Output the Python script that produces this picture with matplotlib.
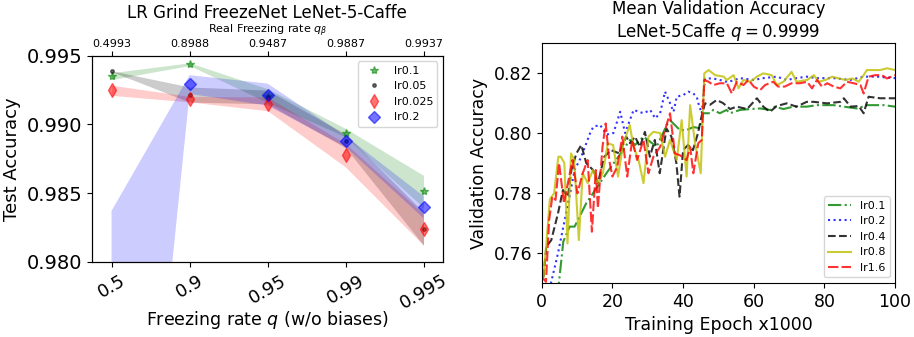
import numpy as np
import matplotlib
matplotlib.use("Agg")
import matplotlib.pyplot as plt

# ---- left panel: LR grid, test accuracy vs freezing rate ----
q_labels = ["0.5", "0.9", "0.95", "0.99", "0.995"]
q_real = ["0.4993", "0.8988", "0.9487", "0.9887", "0.9937"]

acc_lr01 = [0.99352, 0.99439, 0.99210, 0.98941, 0.98512]
std_lr01 = [0.00025, 0.00010, 0.00050, 0.00030, 0.00117]
acc_lr005 = [0.99388, 0.99218, 0.99200, 0.98880, 0.98240]
std_lr005 = [0.00003, 0.00055, 0.00050, 0.00050, 0.00120]
acc_lr0025 = [0.99249, 0.99184, 0.99150, 0.98775, 0.98235]
std_lr0025 = [0.00037, 0.00020, 0.00050, 0.00085, 0.00115]
acc_lr02 = [0.96020, 0.99291, 0.99218, 0.98877, 0.98398]
std_lr02 = [0.02350, 0.00068, 0.00080, 0.00040, 0.00080]

# ---- right panel: mean validation accuracy, q = 0.9999 ----
x_lr01 = [4.5, 6.1, 7.9, 9.3, 10.7, 12.6, 14.5, 16.4, 18.3, 21.7,
          23.6, 25.0, 26.4, 28.8, 30.6, 32.5, 35.4, 36.3, 39.1, 41.0,
          42.9, 44.8, 45.7, 47.6, 48.5, 50.4, 52.3, 53.3, 56.1, 59.0,
          61.8, 64.6, 66.0, 68.4, 71.2, 75.0, 77.9, 82.6, 85.5, 89.2,
          92.1, 96.8, 100]
y_lr01 = [0.7460, 0.7638, 0.7688, 0.7688, 0.7721, 0.7766, 0.7799, 0.7832, 0.7866, 0.7921,
          0.7954, 0.7977, 0.7960, 0.7988, 0.7972, 0.7954, 0.8027, 0.8043, 0.8010, 0.8010,
          0.8020, 0.8016, 0.8066, 0.8066, 0.8077, 0.8066, 0.8077, 0.8066, 0.8077, 0.8080,
          0.8082, 0.8077, 0.8088, 0.8080, 0.8088, 0.8088, 0.8093, 0.8093, 0.8088, 0.8082,
          0.8093, 0.8093, 0.8088]

x_lr02 = [2.2, 2.7, 4.6, 6.5, 8.4, 9.3, 11.2, 13.7, 14.6, 16.5,
          18.4, 20.3, 22.2, 23.6, 26.0, 28.8, 30.7, 32.1, 33.5, 34.9,
          36.3, 37.3, 38.2, 40.1, 41.5, 42.9, 43.9, 44.3, 45.3, 46.2,
          48.5, 50.4, 52.7, 56.1, 60.0, 62.7, 66.5, 69.3, 72.1, 75.0,
          77.9, 82.6, 87.3, 91.1, 94.9, 100]
y_lr02 = [0.7480, 0.7504, 0.7599, 0.7710, 0.7821, 0.7877, 0.7921, 0.8000, 0.8021, 0.8027,
          0.7995, 0.8000, 0.8071, 0.8000, 0.8077, 0.8066, 0.8077, 0.8049, 0.8066, 0.8138,
          0.8100, 0.8071, 0.8121, 0.8127, 0.8138, 0.8132, 0.8120, 0.8100, 0.8066, 0.8182,
          0.8182, 0.8177, 0.8170, 0.8183, 0.8177, 0.8183, 0.8188, 0.8177, 0.8183, 0.8188,
          0.8183, 0.8183, 0.8177, 0.8188, 0.8188, 0.8183]

x_lr04 = [0.5, 1.3, 2.7, 4.6, 6.0, 7.4, 8.4, 9.8, 11.2, 12.6,
          14.5, 15.9, 17.7, 19.6, 22.0, 23.9, 25.0, 26.4, 27.8, 29.2,
          30.6, 32.0, 33.4, 35.3, 36.7, 38.1, 39.0, 40.0, 41.4, 42.8,
          44.2, 45.2, 46.2, 47.6, 49.5, 51.3, 53.3, 55.2, 58.1, 60.9,
          62.7, 64.6, 66.5, 69.3, 72.1, 75.0, 77.0, 80.8, 84.5, 85.5,
          87.4, 89.7, 91.1, 92.5, 95.8, 100]
y_lr04 = [0.7520, 0.7621, 0.7643, 0.7732, 0.7810, 0.7788, 0.7877, 0.7932, 0.7960, 0.7900,
          0.7877, 0.7833, 0.7921, 0.7943, 0.7932, 0.7988, 0.7966, 0.7988, 0.7954, 0.8004,
          0.7921, 0.7977, 0.7866, 0.8015, 0.7988, 0.7900, 0.7788, 0.7943, 0.7960, 0.7943,
          0.7999, 0.8054, 0.8099, 0.8094, 0.8110, 0.8100, 0.8080, 0.8088, 0.8080, 0.8116,
          0.8088, 0.8071, 0.8090, 0.8099, 0.8088, 0.8104, 0.8104, 0.8099, 0.8104, 0.8116,
          0.8088, 0.8090, 0.8066, 0.8121, 0.8116, 0.8116]

x_lr08 = [0.5, 1.5, 2.3, 3.5, 4.7, 5.4, 6.4, 7.3, 8.3, 9.2,
          10.5, 11.6, 13.0, 14.5, 15.9, 17.3, 18.7, 20.2, 21.6, 23.0,
          24.9, 26.0, 27.4, 28.8, 30.2, 31.6, 33.5, 34.9, 36.3, 38.2,
          39.6, 41.0, 42.0, 43.4, 45.0, 46.0, 47.2, 49.1, 51.5, 52.4,
          54.3, 55.7, 57.1, 59.0, 60.9, 62.7, 65.1, 66.5, 68.4, 70.7,
          72.1, 75.1, 77.0, 78.4, 80.3, 82.2, 84.1, 86.0, 87.9, 89.7,
          91.1, 92.0, 95.8, 97.7, 100]
y_lr08 = [0.7520, 0.7660, 0.7780, 0.7799, 0.7921, 0.7921, 0.7900, 0.7632, 0.7932, 0.7910,
          0.7643, 0.7866, 0.7833, 0.7877, 0.7833, 0.7866, 0.7966, 0.7960, 0.7855, 0.7960,
          0.8027, 0.7954, 0.7910, 0.7833, 0.7988, 0.8004, 0.8000, 0.7921, 0.7977, 0.7910,
          0.8043, 0.7855, 0.8093, 0.7966, 0.7866, 0.8199, 0.8210, 0.8193, 0.8188, 0.8177,
          0.8193, 0.8149, 0.8177, 0.8171, 0.8188, 0.8199, 0.8193, 0.8160, 0.8171, 0.8204,
          0.8171, 0.8177, 0.8193, 0.8171, 0.8177, 0.8188, 0.8182, 0.8177, 0.8182, 0.8171,
          0.8193, 0.8210, 0.8210, 0.8216, 0.8210]

x_lr16 = [0.0, 1.2, 2.1, 3.0, 3.9, 4.9, 6.3, 7.2, 8.7, 10.1,
          11.6, 13.0, 14.2, 15.3, 15.9, 17.2, 18.1, 19.1, 20.0, 21.4,
          22.8, 24.2, 25.6, 27.0, 28.8, 30.2, 31.6, 33.5, 34.9, 36.3,
          37.7, 39.1, 41.0, 42.0, 42.9, 44.3, 45.3, 46.0, 47.2, 48.6,
          50.4, 52.4, 53.8, 55.2, 57.1, 58.5, 60.0, 61.8, 63.2, 65.5,
          66.9, 68.8, 70.7, 73.1, 75.1, 76.5, 77.9, 79.3, 80.8, 82.6,
          84.5, 86.4, 88.3, 90.2, 91.1, 92.5, 94.4, 96.3, 97.7, 100]
y_lr16 = [0.7521, 0.7504, 0.7710, 0.7788, 0.7777, 0.7900, 0.7766, 0.7821, 0.7910, 0.7799,
          0.7866, 0.7910, 0.7671, 0.7877, 0.7750, 0.7954, 0.8032, 0.7910, 0.7855, 0.7888,
          0.7988, 0.7855, 0.7977, 0.7910, 0.7977, 0.7866, 0.7921, 0.7954, 0.8010, 0.8066,
          0.7932, 0.7926, 0.7910, 0.7954, 0.7866, 0.7966, 0.7977, 0.8177, 0.8171, 0.8160,
          0.8166, 0.8166, 0.8132, 0.8171, 0.8160, 0.8177, 0.8155, 0.8143, 0.8160, 0.8171,
          0.8155, 0.8155, 0.8166, 0.8166, 0.8171, 0.8149, 0.8177, 0.8155, 0.8166, 0.8155,
          0.8149, 0.8171, 0.8166, 0.8160, 0.8132, 0.8188, 0.8193, 0.8193, 0.8182, 0.8193]

fig = plt.figure(figsize=(9.14, 3.37), dpi=100)

# left
ax = fig.add_axes([0.1007, 0.2234, 0.384, 0.611])
pos = np.arange(len(q_labels))
groups = [
    (acc_lr01, std_lr01, "g", "*", 6, "lr0.1"),
    (acc_lr005, std_lr005, "k", ".", 5, "lr0.05"),
    (acc_lr0025, std_lr0025, "r", "d", 7, "lr0.025"),
    (acc_lr02, std_lr02, "b", "D", 6, "lr0.2"),
]
for m, s, c, mk, ms, lab in groups:
    m = np.array(m)
    s = np.array(s)
    ax.fill_between(pos, m - s, m + s, color=c, alpha=0.2, lw=0)
    ax.plot(pos, m, ls="none", marker=mk, color=c, ms=ms, alpha=0.55, label=lab)
ax.set_xlim(-0.25, 4.25)
ax.set_ylim(0.980, 0.995)
ax.set_yticks([0.980, 0.985, 0.990, 0.995])
ax.set_xticks(pos)
ax.set_xticklabels(q_labels, rotation=30, fontsize=13)
ax.tick_params(axis="y", labelsize=14)
ax.set_ylabel("Test Accuracy", fontsize=13)
ax.set_xlabel("Freezing rate $q$ (w/o biases)", fontsize=12.5, labelpad=-3)
ax.legend(loc="upper right", fontsize=8)

ax_top = ax.twiny()
ax_top.set_xlim(ax.get_xlim())
ax_top.set_xticks(pos)
ax_top.set_xticklabels(q_real, fontsize=8)
ax_top.tick_params(axis="x", pad=1.5)
ax_top.set_xlabel(r"Real Freezing rate $q_\beta$", fontsize=8, labelpad=4)
fig.text(0.2925, 0.962, "LR Grind FreezeNet LeNet-5-Caffe", fontsize=12,
         ha="center", va="center")

# right
ax_r = fig.add_axes([0.5927, 0.1602, 0.3866, 0.712])
ax_r.plot(x_lr01, y_lr01, color="g", ls="-.", alpha=0.8, label="lr0.1")
ax_r.plot(x_lr02, y_lr02, color="b", ls=":", alpha=0.8, label="lr0.2")
ax_r.plot(x_lr04, y_lr04, color="k", ls="--", alpha=0.8, label="lr0.4")
ax_r.plot(x_lr08, y_lr08, color="y", ls="-", alpha=0.8, label="lr0.8")
ax_r.plot(x_lr16, y_lr16, color="r", dashes=(5, 1.5), alpha=0.8, label="lr1.6")
ax_r.set_xlim(0, 100)
ax_r.set_ylim(0.75, 0.83)
ax_r.set_yticks([0.76, 0.78, 0.80, 0.82])
ax_r.tick_params(labelsize=12.5)
ax_r.set_xlabel("Training Epoch x1000", fontsize=12.5)
ax_r.set_ylabel("Validation Accuracy", fontsize=12.5)
ax_r.set_title("Mean Validation Accuracy\nLeNet-5Caffe $q=0.9999$", fontsize=12, pad=4)
ax_r.legend(loc="lower right", fontsize=8)

fig.savefig("out.png", dpi=100)
